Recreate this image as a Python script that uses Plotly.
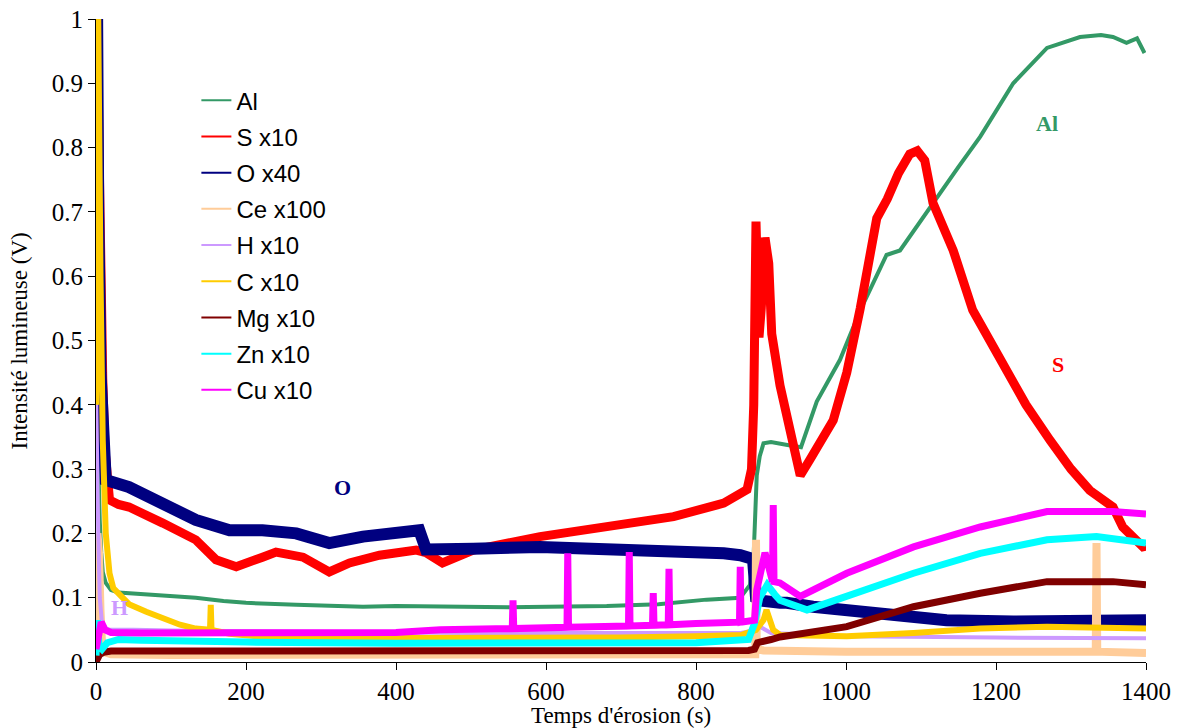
import plotly.graph_objects as go

# time (s) / intensity (V)
t_al = [0, 1, 2, 3, 5, 7, 9, 13, 20, 30, 44, 70, 100, 133, 170, 200, 267, 356, 400, 462, 550, 681, 750, 814,
        859, 872, 877, 881, 885, 890, 900, 920, 940, 961, 992, 1019, 1054, 1072, 1112, 1150, 1179, 1223, 1268,
        1312, 1340, 1356, 1374, 1388, 1398]
v_al = [0.38, 0.42, 0.36, 0.3, 0.22, 0.17, 0.14, 0.123, 0.112, 0.108, 0.107, 0.104, 0.102, 0.1, 0.095, 0.092,
        0.089, 0.086, 0.087, 0.086, 0.085, 0.087, 0.09, 0.097, 0.1, 0.12, 0.17, 0.29, 0.32, 0.34, 0.342, 0.338,
        0.334, 0.405, 0.47, 0.547, 0.633, 0.64, 0.708, 0.77, 0.817, 0.9, 0.955, 0.972, 0.975, 0.972, 0.963,
        0.97, 0.947]

t_s = [0, 1, 2, 4, 6, 9, 12, 15, 18, 30, 44, 89, 133, 160, 187, 222, 240, 276, 311, 338, 378, 427, 440, 462,
       503, 592, 681, 770, 837, 868, 874, 877, 880, 884, 887, 892, 897, 901, 912, 925, 939, 952, 983, 1001,
       1019, 1041, 1055, 1070, 1085, 1095, 1105, 1116, 1143, 1169, 1196, 1205, 1240, 1272, 1300, 1325, 1356,
       1369, 1396, 1400]
v_s = [0.55, 1.0, 1.0, 0.8, 0.6, 0.44, 0.33, 0.28, 0.252, 0.245, 0.241, 0.216, 0.19, 0.159, 0.148, 0.163,
       0.171, 0.163, 0.14, 0.154, 0.166, 0.174, 0.17, 0.154, 0.174, 0.195, 0.21, 0.226, 0.247, 0.268, 0.3,
       0.4, 0.685, 0.505, 0.55, 0.66, 0.62, 0.51, 0.43, 0.365, 0.29, 0.315, 0.376, 0.45, 0.55, 0.69, 0.72,
       0.76, 0.79, 0.795, 0.78, 0.714, 0.64, 0.547, 0.49, 0.47, 0.4, 0.345, 0.3, 0.267, 0.241, 0.21, 0.179,
       0.18]

t_o = [0, 1, 1.5, 3, 6, 10, 13, 44, 89, 133, 178, 222, 267, 311, 356, 400, 431, 440, 462, 503, 592, 681, 770,
       837, 859, 870, 876, 880, 890, 912, 921, 956, 1045, 1134, 1223, 1312, 1396, 1400]
v_o = [0.5, 0.9, 1.0, 0.7, 0.45, 0.31, 0.283, 0.272, 0.247, 0.221, 0.205, 0.205, 0.2, 0.185, 0.195, 0.2,
       0.205, 0.175, 0.174, 0.176, 0.179, 0.176, 0.174, 0.169, 0.166, 0.165, 0.16, 0.1, 0.095, 0.092, 0.092,
       0.086, 0.075, 0.065, 0.063, 0.063, 0.065, 0.065]

t_ce = [0, 2, 4, 6, 8, 12, 20, 100, 300, 600, 860, 879, 880, 881, 890, 1000, 1200, 1333, 1334, 1335, 1400]
v_ce = [0.05, 0.2, 0.17, 0.08, 0.03, 0.015, 0.012, 0.011, 0.011, 0.011, 0.011, 0.012, 0.19, 0.02, 0.018,
        0.016, 0.016, 0.016, 0.185, 0.016, 0.014]

t_h = [0, 1, 3, 5, 8, 12, 20, 50, 100, 300, 500, 700, 860, 880, 885, 900, 1000, 1200, 1400]
v_h = [0.43, 0.3, 0.2, 0.1, 0.06, 0.052, 0.05, 0.05, 0.049, 0.047, 0.045, 0.045, 0.045, 0.05, 0.055, 0.045,
       0.04, 0.038, 0.037]

t_c = [0, 1, 3, 6, 9, 13, 18, 23, 44, 67, 89, 112, 133, 152, 153, 154, 178, 222, 300, 400, 500, 600, 700, 800,
       860, 880, 890, 894, 903, 912, 1001, 1090, 1179, 1268, 1396, 1400]
v_c = [0.4, 0.8, 1.0, 0.6, 0.345, 0.2, 0.138, 0.115, 0.09, 0.078, 0.068, 0.058, 0.052, 0.05, 0.089, 0.05,
       0.044, 0.039, 0.037, 0.037, 0.037, 0.037, 0.038, 0.04, 0.042, 0.05, 0.065, 0.081, 0.05, 0.042, 0.04,
       0.045, 0.052, 0.055, 0.052, 0.052]

t_mg = [0, 3, 5, 10, 20, 100, 400, 700, 870, 878, 882, 900, 912, 1001, 1090, 1179, 1268, 1356, 1396, 1400]
v_mg = [0.0, 0.005, 0.012, 0.015, 0.017, 0.017, 0.017, 0.017, 0.018, 0.02, 0.03, 0.035, 0.039, 0.055, 0.086,
        0.107, 0.125, 0.125, 0.122, 0.12]

t_zn = [0, 2, 4, 8, 15, 30, 60, 100, 200, 400, 600, 800, 870, 878, 885, 895, 905, 912, 948, 1001, 1090, 1179,
        1268, 1334, 1396, 1400]
v_zn = [0.01, 0.065, 0.025, 0.02, 0.03, 0.035, 0.034, 0.033, 0.031, 0.029, 0.029, 0.03, 0.035, 0.06, 0.1,
        0.12, 0.105, 0.096, 0.081, 0.102, 0.138, 0.169, 0.19, 0.195, 0.187, 0.185]

t_cu = [0, 3, 7, 12, 20, 60, 100, 200, 300, 400, 459, 555, 556, 557, 628, 629, 630, 710, 711, 712, 742, 743,
        744, 763, 764, 765, 800, 858, 859, 860, 878, 881, 892, 902, 903, 904, 912, 939, 1001, 1090, 1179, 1268,
        1356, 1396, 1400]
v_cu = [0.02, 0.045, 0.062, 0.05, 0.046, 0.045, 0.045, 0.045, 0.045, 0.046, 0.05, 0.052, 0.096, 0.052, 0.054,
        0.169, 0.054, 0.056, 0.171, 0.056, 0.057, 0.107, 0.057, 0.058, 0.145, 0.058, 0.06, 0.062, 0.148, 0.062,
        0.065, 0.112, 0.17, 0.125, 0.244, 0.125, 0.123, 0.102, 0.138, 0.179, 0.21, 0.234, 0.234, 0.231, 0.23]

series = [
    ("Al", t_al, v_al, "#339966", 4),
    ("S x10", t_s, v_s, "#FF0000", 9),
    ("O x40", t_o, v_o, "#000080", 12),
    ("Ce x100", t_ce, v_ce, "#FFCC99", 8),
    ("H x10", t_h, v_h, "#CC99FF", 4),
    ("C x10", t_c, v_c, "#FFCC00", 6),
    ("Mg x10", t_mg, v_mg, "#800000", 7),
    ("Zn x10", t_zn, v_zn, "#00FFFF", 7),
    ("Cu x10", t_cu, v_cu, "#FF00FF", 7),
]

labels = [("Al", 1268, 0.837, "#339966"), ("S", 1283, 0.463, "#FF0000"), ("O", 329, 0.272, "#000080"),
          ("H", 31, 0.0855, "#CC99FF"), ("Cu", 1428, 0.238, "#FF00FF"), ("Zn", 1429, 0.19, "#00FFFF"),
          ("Mg", 1429, 0.128, "#800000"), ("C", 1427, 0.064, "#FFCC00"), ("Ce", 1428, 0.017, "#FFCC99")]

fig = go.Figure()
for name, t, v, col, w in series:
    fig.add_trace(go.Scatter(x=t, y=v, mode="lines", line=dict(color=col, width=w),
                             showlegend=False, hoverinfo="skip"))
# thin legend samples
for name, t, v, col, w in series:
    fig.add_trace(go.Scatter(x=[None], y=[None], mode="lines", name=name, legendgroup=name,
                             line=dict(color=col, width=2)))

for txt, x, y, col in labels:
    fig.add_annotation(x=x, y=y, text="<b>%s</b>" % txt, showarrow=False,
                       font=dict(family="Liberation Serif", size=22, color=col))

tickf = dict(family="Liberation Serif", size=25, color="black")
titlef = dict(family="Liberation Serif", size=23, color="black")

# y title as a rotated annotation so it sits where the original has it
fig.add_annotation(xref="paper", yref="paper", x=-0.0724, y=0.5, text="Intensité lumineuse (V)",
                   textangle=-90, showarrow=False, xanchor="center", yanchor="middle", font=titlef)

# page body adds an 8px margin, so the figure is 8px smaller and margins shifted
fig.update_layout(
    width=1184, height=720,
    margin=dict(l=88, r=46, t=11, b=66),
    paper_bgcolor="white", plot_bgcolor="white",
    legend=dict(x=0.0956, y=0.908, xanchor="left", yanchor="top", traceorder="grouped",
                tracegroupgap=2, bgcolor="rgba(0,0,0,0)",
                font=dict(family="Liberation Sans", size=24, color="black")),
    xaxis=dict(range=[0, 1400], dtick=200, ticks="outside", ticklen=7, showline=True, linecolor="black",
               linewidth=1, tickcolor="black", showgrid=False, zeroline=False, tickfont=tickf,
               ticklabeloverflow="allow", automargin=False,
               title=dict(text="Temps d'érosion (s)", font=titlef, standoff=0)),
    yaxis=dict(range=[0, 1], dtick=0.1, ticks="outside", ticklen=7, showline=True, linecolor="black",
               linewidth=1, tickcolor="black", showgrid=False, zeroline=False, tickfont=tickf,
               ticklabeloverflow="allow", automargin=False),
)
fig.write_html("out.html")
